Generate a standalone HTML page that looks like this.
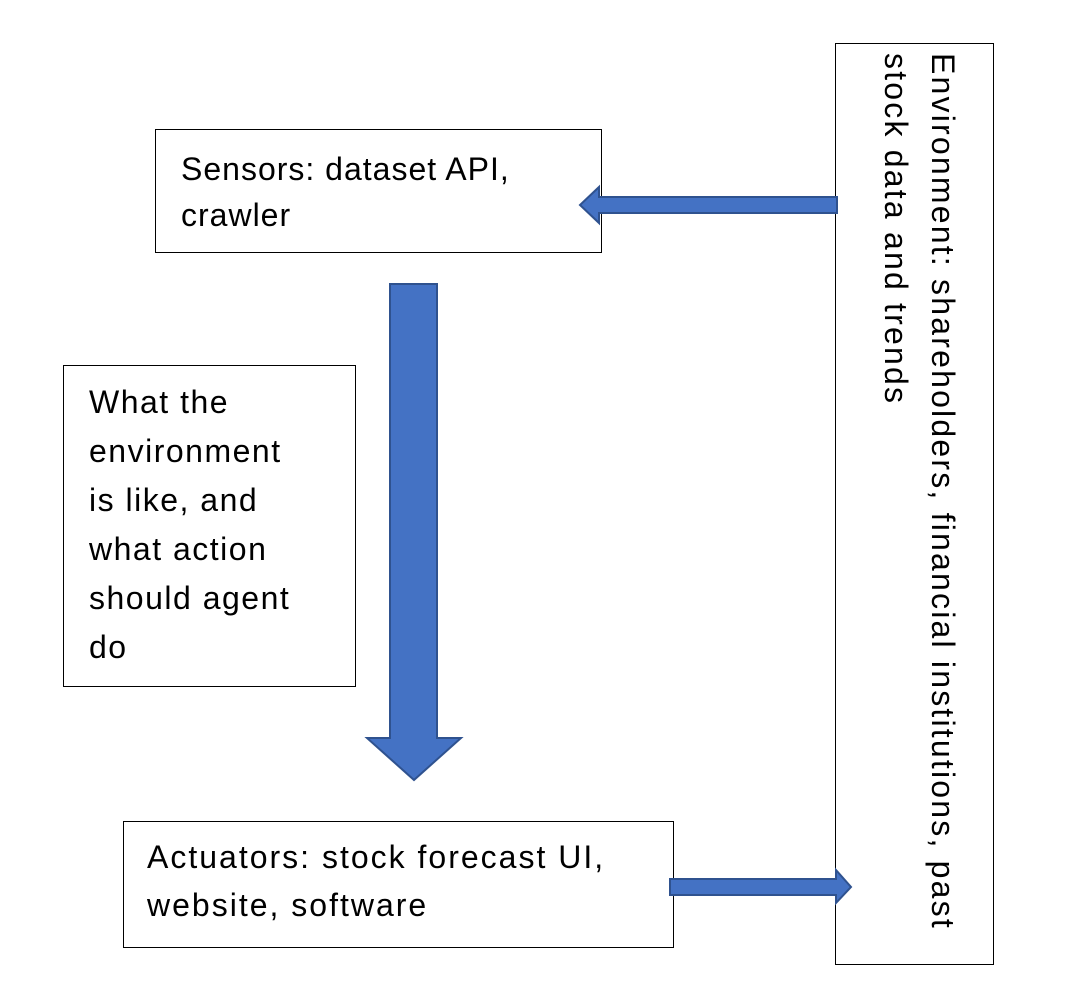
<!DOCTYPE html>
<html><head><style>
body{margin:0;width:1086px;height:986px;background:#fff;position:relative;overflow:hidden;font-family:"Liberation Sans","DejaVu Sans",sans-serif;}
.b{position:absolute;border:1.5px solid #000;box-sizing:border-box;background:#fff;font-size:32px;letter-spacing:1.5px;line-height:49px;color:#000;}
</style></head><body>
<div class="b" style="left:155px;top:129px;width:447px;height:124px;padding:16px 0 0 25px;line-height:46px;letter-spacing:1px">Sensors: dataset API,<br>crawler</div>
<div class="b" style="left:63px;top:365px;width:293px;height:322px;padding:12px 0 0 25px">What the<br>environment<br>is like, and<br>what action<br>should agent<br>do</div>
<div class="b" style="left:123px;top:821px;width:551px;height:127px;padding:11px 0 0 23px;line-height:48px;letter-spacing:2px">Actuators: stock forecast UI,<br>website, software</div>
<div class="b" style="left:835px;top:43px;width:159px;height:922px;"></div>
<div style="position:absolute;left:966px;top:53px;transform-origin:0 0;transform:rotate(90deg);font-size:32px;letter-spacing:2.2px;line-height:47px;white-space:nowrap;width:920px;">Environment: shareholders, financial institutions, past<br>stock data and trends</div>
<svg width="1086" height="986" style="position:absolute;left:0;top:0">
<g fill="#4472C4" stroke="#2F528F" stroke-width="2">
<polygon points="837,197 599,197 599,187 580,205 599,223 599,213 837,213"/>
<polygon points="670,879 836,879 836,870 851,887 836,903 836,895 670,895"/>
<polygon points="390,284 437,284 437,738 461,738 414,780 367,738 390,738"/>
</g>
</svg>
</body></html>
